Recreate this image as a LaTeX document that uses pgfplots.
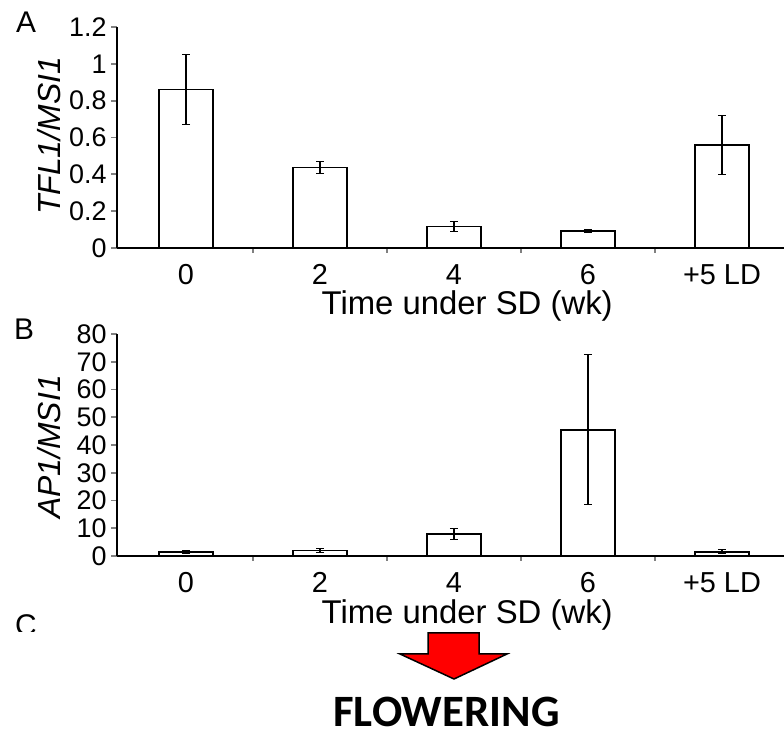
\documentclass[border=0pt]{standalone}
\usepackage{fontspec}
\setmainfont{Liberation Sans}
\newfontfamily\carlito{Carlito}
\usepackage{pgfplots}
\pgfplotsset{compat=1.18}

\pgfplotsset{
  panel/.style={
    scale only axis,
    anchor=south west,
    width=667bp,
    xmin=-0.515, xmax=4.463,
    ymin=0,
    axis x line*=bottom,
    axis y line*=left,
    axis line style={-, line width=1.8bp},
    xtick={0,1,2,3,4},
    xticklabels={0,2,4,6,+5 LD},
    major x tick style={draw=none},
    minor xtick={0.5,1.5,2.5,3.5},
    minor x tick style={line width=1.8bp},
    y tick style={line width=1.8bp},
    tick align=outside,
    major tick length=6bp,
    minor tick length=5bp,
    /pgf/number format/assume math mode=true,
    xticklabel style={font=\fontsize{29}{32}\selectfont, anchor=base, yshift=-31bp},
    yticklabel style={font=\fontsize{27}{30}\selectfont, xshift=-1bp},
    xlabel={Time under SD (wk)},
    every axis x label/.style={at={(axis description cs:0.525,-0.303)}, anchor=base,
      font=\fontsize{33}{36}\selectfont},
    clip=false,
  },
  bars/.style={
    ybar, bar width=54bp, fill=white, draw=black, line width=1.6bp,
    error bars/.cd, y dir=both, y explicit,
    error bar style={line width=1.1bp, black},
    error mark options={rotate=90, mark size=4bp, line width=1.1bp, black},
  },
}

\begin{document}
\begin{tikzpicture}[x=1bp, y=1bp]
\useasboundingbox (0,0) rectangle (784,736);

% panel A
\begin{axis}[panel, at={(117bp,488bp)}, height=221bp, ymax=1.2,
  ytick={0,0.2,0.4,0.6,0.8,1,1.2},
  yticklabels={0,0.2,0.4,0.6,0.8,1,1.2},
  ylabel={TFL1/MSI1},
  every axis y label/.style={at={(axis description cs:-0.102,0.507)}, rotate=90, anchor=center,
    font=\fontsize{32}{35}\selectfont\itshape}]
  \addplot[bars] coordinates {
    (0,0.86) +- (0,0.19)
    (1,0.436) +- (0,0.033)
    (2,0.116) +- (0,0.028)
    (3,0.092) +- (0,0.01)
    (4,0.559) +- (0,0.16)
  };
\end{axis}

% panel B
\begin{axis}[panel, at={(117bp,180bp)}, height=222bp, ymax=80,
  ytick={0,10,...,80},
  yticklabels={0,10,20,30,40,50,60,70,80},
  ylabel={AP1/MSI1},
  every axis y label/.style={at={(axis description cs:-0.102,0.491)}, rotate=90, anchor=center,
    font=\fontsize{32}{35}\selectfont\itshape}]
  \addplot[bars] coordinates {
    (0,1.5) +- (0,0.5)
    (1,2.0) +- (0,0.6)
    (2,7.9) +- (0,2.0)
    (3,45.5) +- (0,27)
    (4,1.5) +- (0,0.7)
  };
\end{axis}

% panel letters
\node[font=\fontsize{30}{33}\selectfont] at (26,713.5) {A};
\node[font=\fontsize{30}{33}\selectfont] at (24,407) {B};
\begin{scope}
  \clip (0,104) rectangle (80,140);
  \node[font=\fontsize{30}{33}\selectfont, anchor=north, inner sep=0pt] at (26,122) {C};
\end{scope}

% arrow and caption
\draw[fill=red, line width=1.5bp, line join=miter]
  (428,103) -- (479,103) -- (479,82) -- (507,82) -- (454,57) -- (400,82) -- (428,82) -- cycle;
\node[font=\carlito\bfseries\fontsize{45}{50}\selectfont, anchor=base, inner sep=0pt] at (446.5,9) {FLOWERING};
\end{tikzpicture}
\end{document}
